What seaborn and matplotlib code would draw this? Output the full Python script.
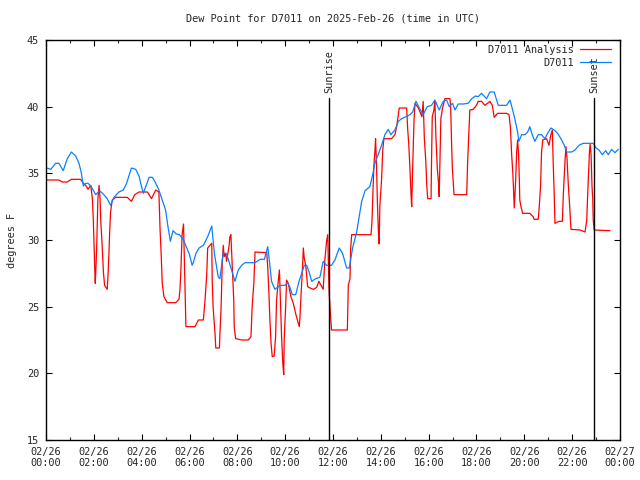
import matplotlib
matplotlib.use("Agg")
import matplotlib.pyplot as plt
import seaborn as sns
import pandas as pd
import numpy as np

# ---- data (hours since 02/26 00:00 UTC, dew point in F) ----
station_t = [0.03, 0.2, 0.4, 0.54, 0.72, 0.89, 1.06, 1.24, 1.38, 1.48, 1.56, 1.66, 1.76, 1.89,
             2.08, 2.24, 2.42, 2.56, 2.7, 2.84, 3.05, 3.23, 3.37, 3.57, 3.75, 3.89, 3.96, 4.07,
             4.17, 4.31, 4.45, 4.59, 4.72, 4.86, 5.0, 5.1, 5.2, 5.31, 5.45, 5.58, 5.75, 5.84,
             6.0, 6.11, 6.16, 6.27, 6.4, 6.58, 6.76, 6.93, 7.04, 7.2, 7.27, 7.41, 7.55, 7.65,
             7.76, 7.9, 8.04, 8.18, 8.32, 8.74, 8.95, 9.13, 9.27, 9.32, 9.43, 9.57, 9.71, 9.85,
             9.99, 10.1, 10.2, 10.3, 10.44, 10.58, 10.69, 10.8, 10.9, 11.0, 11.11, 11.28, 11.45,
             11.59, 11.73, 11.94, 12.08, 12.26, 12.4, 12.57, 12.68, 12.82, 12.99, 13.2, 13.34,
             13.54, 13.66, 13.75, 13.89, 14.03, 14.17, 14.31, 14.42, 14.59, 14.73, 14.87, 15.05,
             15.22, 15.33, 15.47, 15.61, 15.77, 15.94, 16.12, 16.26, 16.44, 16.61, 16.75, 16.86,
             17.0, 17.1, 17.24, 17.45, 17.65, 17.8, 17.95, 18.07, 18.21, 18.42, 18.56, 18.74,
             18.91, 19.26, 19.4, 19.49, 19.6, 19.72, 19.77, 19.89, 20.03, 20.14, 20.23, 20.33,
             20.44, 20.58, 20.72, 20.86, 20.97, 21.11, 21.25, 21.39, 21.53, 21.67, 21.77, 21.98,
             22.12, 22.28, 22.46, 22.88, 23.0, 23.12, 23.26, 23.4, 23.51, 23.65, 23.79, 23.93]
station_v = [35.4, 35.3, 35.75, 35.75, 35.2, 36.1, 36.6, 36.3, 35.75, 35.0, 34.05, 34.25, 34.25, 34.0,
             33.4, 33.7, 33.4, 33.1, 32.6, 33.2, 33.6, 33.75, 34.25, 35.4, 35.3, 34.8, 34.25, 33.5,
             34.0, 34.7, 34.7, 34.25, 33.75, 33.0, 32.25, 31.0, 29.9, 30.7, 30.45, 30.4, 30.0, 29.6,
             28.9, 28.1, 28.3, 29.0, 29.4, 29.6, 30.25, 31.05, 29.0, 27.25, 27.1, 29.05, 28.95, 28.4,
             27.75, 26.9, 27.75, 28.1, 28.3, 28.3, 28.55, 28.55, 29.5, 28.75, 26.9, 26.3, 26.5, 26.6,
             26.6, 26.8, 26.45, 25.9, 25.9, 26.9, 27.5, 28.1, 28.1, 27.6, 26.9, 27.1, 27.2,
             28.4, 28.1, 28.1, 28.5, 29.4, 29.0, 27.9, 27.9, 29.4, 30.6, 32.9, 33.7,
             34.0, 34.9, 35.75, 36.4, 37.1, 37.9, 38.3, 37.9, 38.25, 38.9, 39.1, 39.25,
             39.4, 39.6, 40.4, 39.9, 39.4, 40.0, 40.1, 40.5, 39.75, 40.4, 40.5, 40.0,
             40.25, 39.75, 40.2, 40.2, 40.25, 40.6, 40.8, 40.75, 41.0, 40.6, 41.1, 41.1,
             40.1, 40.1, 40.5, 39.9, 39.1, 38.1, 37.4, 37.9, 37.9, 38.1, 38.5, 37.9,
             37.4, 37.9, 37.9, 37.6, 38.0, 38.4, 38.25, 38.0, 37.6, 37.1, 36.6, 36.6,
             36.75, 37.1, 37.25, 37.25, 36.9, 36.75, 36.4, 36.7, 36.4, 36.8, 36.55, 36.8]

analysis_t = [0.03, 0.54, 0.68, 0.89, 1.06, 1.45, 1.56, 1.66, 1.76, 1.87, 1.94, 1.98, 2.01, 2.04,
              2.06, 2.09, 2.12, 2.17, 2.22, 2.26, 2.29, 2.35, 2.4, 2.45, 2.56, 2.59, 2.63, 2.66,
              2.7, 2.77, 2.91, 3.4, 3.57, 3.71, 3.89, 4.24, 4.41, 4.59, 4.72, 4.77, 4.82, 4.86,
              4.93, 5.07, 5.42, 5.56, 5.6, 5.64, 5.69, 5.75, 5.79, 5.85, 6.23, 6.37, 6.58, 6.65,
              6.72, 6.76, 6.93, 6.95, 6.99, 7.07, 7.1, 7.25, 7.27, 7.32, 7.37, 7.41, 7.45, 7.51,
              7.55, 7.65, 7.69, 7.73, 7.79, 7.85, 7.87, 7.93, 8.18, 8.46, 8.57, 8.62, 8.69, 8.74,
              9.23, 9.27, 9.32, 9.36, 9.41, 9.46, 9.54, 9.6, 9.64, 9.71, 9.76, 9.8, 9.85, 9.9,
              9.94, 9.96, 10.02, 10.06, 10.13, 10.24, 10.34, 10.45, 10.55, 10.59, 10.62, 10.66,
              10.72, 10.76, 10.8, 10.86, 10.94, 11.04, 11.18, 11.32, 11.41, 11.5, 11.59, 11.66,
              11.73, 11.78, 11.8, 11.84, 11.9, 11.94, 12.6, 12.64, 12.71, 12.74, 12.78, 13.59,
              13.63, 13.66, 13.71, 13.75, 13.78, 13.82, 13.86, 13.9, 13.93, 13.96, 14.03, 14.08,
              14.13, 14.45, 14.59, 14.66, 14.71, 14.77, 15.08, 15.12, 15.17, 15.22, 15.26, 15.29,
              15.33, 15.39, 15.43, 15.57, 15.64, 15.72, 15.77, 15.82, 15.88, 15.92, 15.96, 16.1,
              16.12, 16.15, 16.22, 16.26, 16.3, 16.36, 16.42, 16.44, 16.47, 16.51, 16.58, 16.68,
              16.89, 16.92, 16.96, 16.99, 17.06, 17.59, 17.63, 17.67, 17.72, 17.86, 18.0, 18.07,
              18.21, 18.35, 18.46, 18.56, 18.66, 18.74, 18.88, 19.26, 19.36, 19.42, 19.47, 19.52,
              19.56, 19.58, 19.64, 19.68, 19.72, 19.76, 19.79, 19.81, 19.86, 19.93, 20.23, 20.37,
              20.41, 20.58, 20.62, 20.68, 20.72, 20.77, 20.93, 21.03, 21.11, 21.17, 21.21, 21.25,
              21.28, 21.45, 21.59, 21.63, 21.7, 21.74, 21.78, 21.84, 21.91, 21.95, 22.33, 22.54,
              22.61, 22.64, 22.68, 22.72, 22.75, 22.79, 22.83, 22.86, 22.88, 22.92, 23.58]
analysis_v = [34.5, 34.5, 34.35, 34.35, 34.55, 34.55, 34.25, 34.1, 33.8, 34.1, 33.1, 31.4, 29.5, 27.75,
              26.75, 28.0, 29.5, 33.1, 34.1, 33.1, 31.4, 29.5, 27.6, 26.6, 26.3, 27.25, 28.9, 30.5,
              32.1, 33.0, 33.2, 33.2, 32.9, 33.4, 33.6, 33.6, 33.1, 33.75, 33.6, 30.75, 28.75, 26.75,
              25.75, 25.3, 25.3, 25.55, 26.25, 27.75, 30.4, 31.2, 28.0, 23.5, 23.5, 24.0, 24.0, 25.5,
              27.4, 29.4, 29.75, 26.9, 24.9, 22.9, 21.9, 21.9, 22.9, 24.9, 28.25, 29.6, 28.75, 29.0,
              28.4, 29.5, 30.25, 30.4, 28.0, 25.5, 23.5, 22.6, 22.5, 22.5, 22.75, 25.0, 26.75, 29.1,
              29.05, 28.0, 26.0, 24.1, 22.25, 21.25, 21.3, 22.75, 25.5, 26.9, 27.75, 25.5, 22.75, 20.75,
              19.9, 22.6, 25.0, 27.0, 26.75, 25.75, 25.25, 24.4, 23.75, 23.5, 24.25, 25.75,
              27.75, 29.4, 28.6, 28.1, 26.5, 26.4, 26.3, 26.45, 26.9, 26.6, 26.3, 28.5,
              29.9, 30.4, 28.75, 26.0, 24.25, 23.25, 23.25, 26.6, 27.1, 29.4, 30.4, 30.4,
              31.4, 33.1, 35.6, 36.6, 37.6, 35.6, 32.6, 30.6, 29.7, 32.6, 34.5, 36.75,
              37.6, 37.6, 37.9, 38.5, 39.1, 39.9, 39.9, 38.4, 37.1, 35.25, 33.5, 32.5,
              35.4, 39.1, 40.25, 39.9, 39.6, 39.25, 40.4, 37.6, 35.9, 34.1, 33.1, 33.1,
              35.9, 39.25, 39.75, 40.4, 37.9, 35.4, 34.1, 33.25, 35.9, 39.1, 39.9, 40.6,
              40.6, 40.0, 37.1, 35.4, 33.4, 33.4, 35.9, 37.6, 39.75, 39.8, 40.1, 40.4,
              40.4, 40.1, 40.25, 40.4, 40.1, 39.2, 39.5, 39.5, 39.4, 38.4, 36.4, 35.0,
              33.25, 32.4, 34.6, 36.6, 37.5, 36.4, 34.6, 33.0, 32.5, 32.0, 32.0, 31.75,
              31.55, 31.55, 32.4, 34.1, 36.6, 37.5, 37.6, 37.1, 37.9, 38.25, 35.6, 33.4,
              31.25, 31.4, 31.4, 33.4, 35.9, 37.0, 36.25, 34.1, 32.1, 30.8, 30.75, 30.6,
              31.5, 33.0, 34.75, 36.5, 37.2, 36.4, 34.0, 33.1, 31.5, 30.75, 30.7]

series_names = ["D7011 Analysis", "D7011"]
series_colors = ["#ff0000", "#0a80ff"]
sunrise_h = 11.83
sunset_h = 22.92
x_tick_hours = list(range(0, 25, 2))
x_tick_labels = ["02/26\n%02d:00" % h for h in range(0, 24, 2)] + ["02/27\n00:00"]
y_ticks = [15, 20, 25, 30, 35, 40, 45]
title = "Dew Point for D7011 on 2025-Feb-26 (time in UTC)"
ylabel = "degrees F"

# ---- build frame ----
df = pd.concat([
    pd.DataFrame({"hour": analysis_t, "dewpoint": analysis_v, "series": series_names[0]}),
    pd.DataFrame({"hour": station_t, "dewpoint": station_v, "series": series_names[1]}),
], ignore_index=True)

sns.set_theme(style="white")
plt.rcParams["font.family"] = ["DejaVu Sans Mono"]
fs = 7.4

fig = plt.figure(figsize=(6.4, 4.8), dpi=100)
ax = fig.add_axes([46 / 640, 40 / 480, 574 / 640, 400 / 480])

sns.lineplot(data=df, x="hour", y="dewpoint", hue="series", hue_order=series_names,
             palette=dict(zip(series_names, series_colors)), estimator=None, sort=False,
             linewidth=0.9, ax=ax)

ax.set_xlim(0, 24)
ax.set_ylim(15, 45)
ax.set_xticks(x_tick_hours)
ax.set_xticklabels(x_tick_labels, fontsize=fs, linespacing=1.15)
ax.set_xticks(range(1, 24, 2), minor=True)
ax.set_yticks(y_ticks)
ax.set_yticklabels([str(v) for v in y_ticks], fontsize=fs)
ax.tick_params(axis="both", which="major", direction="in", length=4.5, width=0.8,
               top=True, right=True, bottom=True, left=True, color="black", pad=5)
ax.tick_params(axis="x", which="minor", direction="in", length=2.5, width=0.8,
               top=True, bottom=True)
ax.set_xlabel("")
ax.set_ylabel(ylabel, fontsize=fs, labelpad=7)
ax.set_title(title, fontsize=fs, pad=13)
for s in ax.spines.values():
    s.set_color("black")
    s.set_linewidth(1.0)

# sunrise / sunset markers
frac_top = (440 - 98) / 400
for h, lab in [(sunrise_h, "Sunrise"), (sunset_h, "Sunset")]:
    ax.axvline(h, ymin=0, ymax=frac_top, color="black", linewidth=1.0)
    ax.text(h, 0.868, lab, transform=ax.get_xaxis_transform(), rotation=90,
            ha="center", va="bottom", fontsize=fs)

handles, labels = ax.get_legend_handles_labels()
ax.legend(handles, labels, loc="upper right", frameon=False, markerfirst=False,
          fontsize=fs, handlelength=3.0, handletextpad=0.6, labelspacing=0.3,
          borderaxespad=0.3, bbox_to_anchor=(0.997, 1.006))

fig.savefig("out.png", dpi=100)
